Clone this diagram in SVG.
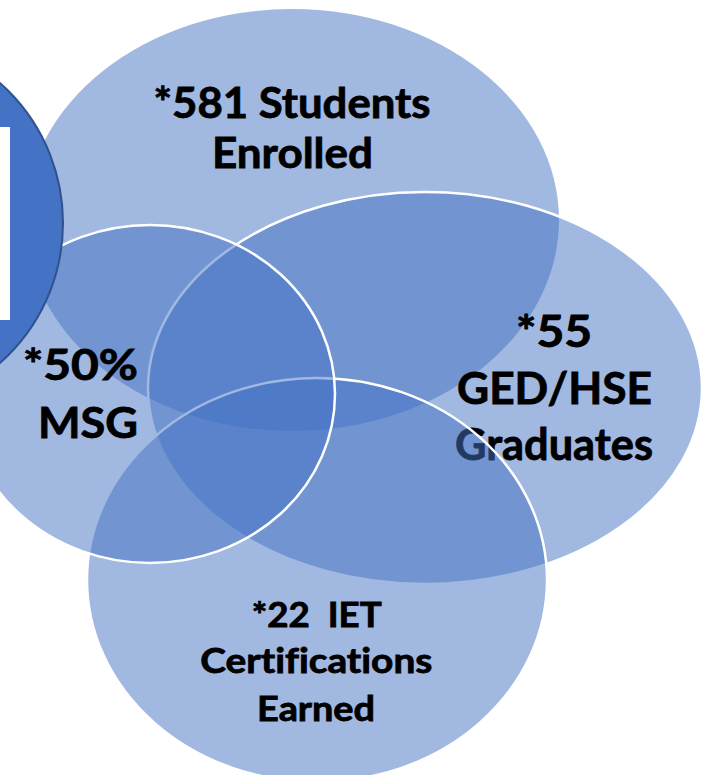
<svg xmlns="http://www.w3.org/2000/svg" width="709" height="775" viewBox="0 0 709 775">
  <style>
    .bubble { fill: rgba(68,114,196,0.5); stroke: #FFFFFF; stroke-width: 2.5; }
    .plain { fill: rgba(68,114,196,0.5); stroke: none; }
    .lbl { font-family: Lato, "Liberation Sans", "DejaVu Sans", sans-serif; font-weight: 700; font-variant-ligatures: none; fill: #000000; stroke: #000000; stroke-width: 0.8; }
  </style>
  <rect x="0" y="0" width="709" height="775" fill="#FFFFFF"/>
  <g id="node-enrolled">
    <ellipse class="plain" cx="292" cy="220" rx="267" ry="211"/>
    <text class="lbl" font-size="42" text-anchor="middle" x="292" y="118" textLength="277" lengthAdjust="spacingAndGlyphs">*581 Students</text>
    <text class="lbl" font-size="42" text-anchor="middle" x="292.5" y="168" textLength="161" lengthAdjust="spacingAndGlyphs">Enrolled</text>
  </g>
  <g id="node-ged">
    <ellipse class="bubble" cx="425" cy="388" rx="277" ry="196"/>
    <text class="lbl" font-size="44" text-anchor="middle" x="554" y="347" textLength="76" lengthAdjust="spacingAndGlyphs">*55</text>
    <text class="lbl" font-size="44" text-anchor="middle" x="554.5" y="404" textLength="195" lengthAdjust="spacingAndGlyphs">GED/HSE</text>
    <text class="lbl" font-size="44" text-anchor="middle" x="554" y="460" textLength="198" lengthAdjust="spacingAndGlyphs">Graduates</text>
  </g>
  <g id="node-iet">
    <ellipse class="bubble" cx="317" cy="580" rx="230" ry="202"/>
    <text class="lbl" font-size="34" text-anchor="middle" x="316.7" y="627" textLength="130" lengthAdjust="spacingAndGlyphs" xml:space="preserve">*22  IET</text>
    <text class="lbl" font-size="34" text-anchor="middle" x="316.3" y="673" textLength="232" lengthAdjust="spacingAndGlyphs">Certifications</text>
    <text class="lbl" font-size="34" text-anchor="middle" x="316" y="721" textLength="118" lengthAdjust="spacingAndGlyphs">Earned</text>
  </g>
  <g id="node-msg">
    <ellipse class="bubble" cx="150" cy="394" rx="185" ry="169"/>
    <text class="lbl" font-size="42" text-anchor="end" x="138" y="380" textLength="115" lengthAdjust="spacingAndGlyphs">*50%</text>
    <text class="lbl" font-size="42" text-anchor="end" x="138" y="438" textLength="100" lengthAdjust="spacingAndGlyphs">MSG</text>
  </g>
  <g id="node-side">
    <circle cx="-124" cy="223" r="187" fill="#4472C4" stroke="#2F528F" stroke-width="2"/>
    <rect x="0" y="127" width="10" height="193" fill="#FFFFFF"/>
  </g>
</svg>
